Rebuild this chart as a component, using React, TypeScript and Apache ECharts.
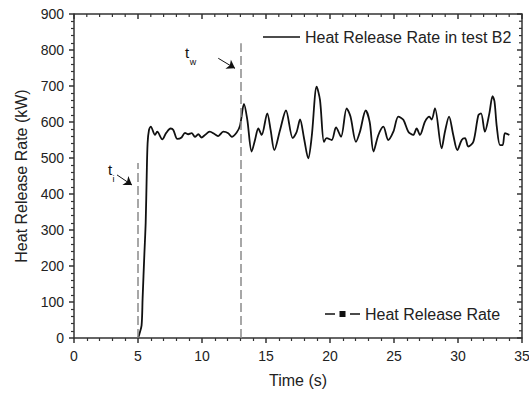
import React, { useEffect, useRef } from "react";
import * as echarts from "echarts";

// Time (s) and heat release rate (kW) for test B2
const timeS: number[] = [
  5.0, 5.1, 5.28, 5.36, 5.5, 5.6, 5.68, 5.75, 5.86, 6.0, 6.33, 6.5, 6.9, 7.19, 7.55, 7.76,
  8.07, 8.4, 8.67, 8.93, 9.19, 9.45, 9.71, 9.97, 10.23, 10.6, 11.0, 11.27, 11.66, 12.05,
  12.32, 12.71, 12.97, 13.28, 13.54, 13.88, 14.14, 14.4, 14.66, 15.1, 15.36, 15.65, 16.1,
  16.56, 17.09, 17.4, 17.66, 17.97, 18.3, 18.57, 18.96, 19.22, 19.53, 19.74, 20.13, 20.47,
  20.86, 21.3, 21.6, 22.03, 22.34, 22.79, 23.1, 23.4, 23.78, 24.17, 24.55, 24.95, 25.34,
  25.73, 26.12, 26.5, 26.77, 27.03, 27.42, 27.76, 27.94, 28.2, 28.72, 28.98, 29.3, 29.63,
  29.95, 30.29, 30.55, 30.8, 31.2, 31.59, 31.8, 32.1, 32.45, 32.7, 32.85, 33.03, 33.28,
  33.49, 33.67, 34.01,
];
const hrrKW: number[] = [
  0, 10, 35, 110, 235, 320, 450, 541, 578, 587, 564, 573, 552, 569, 582, 578,
  553, 557, 570, 566, 569, 559, 566, 557, 564, 573, 566, 561, 573, 569,
  559, 571, 590, 650, 606, 518, 550, 582, 564, 624, 578, 522, 578,
  632, 555, 573, 607, 555, 499, 559, 698, 661, 545, 555, 550, 585,
  559, 638, 615, 545, 573, 632, 600, 518, 564, 587, 550, 573, 615,
  606, 573, 564, 582, 564, 601, 615, 607, 638, 527, 573, 615, 564,
  522, 550, 555, 532, 545, 619, 624, 573, 624, 672, 657, 587, 536,
  536, 569, 564,
];

// Axis ranges
const xMin = 0;
const xMax = 35;
const xStep = 5;
const yMin = 0;
const yMax = 900;
const yStep = 100;

// Event markers: ignition (t_i) and water application (t_w)
const ignitionTime = 5;
const ignitionLineTop = 486;
const waterTime = 13;
const waterLineTop = 819;

const seriesName = "Heat Release Rate in test B2";
const legendName2 = "Heat Release Rate";

const axisColor = "#333";
const textColor = "#222";
const fontFamily = "'Liberation Sans', Arial, sans-serif";

// Legend glyph "—■—" in a 35 x 7 box
const dashSquareIcon =
  "path://M0,2.8 L10,2.8 L10,4.2 L0,4.2 Z M14.5,0.5 L20.5,0.5 L20.5,6.5 L14.5,6.5 Z M25,2.8 L35,2.8 L35,4.2 L25,4.2 Z";

export default function App() {
  const ref = useRef<HTMLDivElement>(null);

  useEffect(() => {
    if (!ref.current) return;
    const chart = echarts.init(ref.current, undefined, { renderer: "svg" });

    const data = timeS.map((t, i) => [t, hrrKW[i]]);

    const line = () => ({ show: true, onZero: false, lineStyle: { color: axisColor, width: 1.5 } });
    const tick = () => ({
      show: true,
      inside: false,
      length: 5,
      lineStyle: { color: axisColor, width: 1.5 },
    });
    const minor = () => ({ show: true, splitNumber: 5, length: 3, lineStyle: { color: axisColor, width: 1.2 } });

    const dashed = { type: [9, 4], color: "#8a8a8a", width: 1.5 };
    const arrowStyle = { type: "solid", color: "#111", width: 1 };
    const letter = (x: number, y: number, text: string, size: number) => ({
      coord: [x, y],
      value: text,
      symbolSize: 1,
      label: {
        show: true,
        position: "inside",
        formatter: text,
        fontSize: size,
        color: "#111",
        fontFamily,
      },
    });

    chart.setOption({
      animation: false,
      textStyle: { fontFamily },
      grid: {
        left: 74,
        top: 14,
        right: 7,
        bottom: 58,
        containLabel: false,
        outerBoundsMode: "none",
      },
      legend: [
        {
          data: [{ name: seriesName, icon: "rect" }],
          left: 258,
          top: 24,
          itemWidth: 37,
          itemHeight: 1.5,
          textStyle: { fontSize: 16, color: textColor, fontFamily },
        },
        {
          data: [{ name: legendName2, icon: dashSquareIcon }],
          left: 320,
          top: 301,
          itemWidth: 35,
          itemHeight: 7,
          textStyle: { fontSize: 16, color: textColor, fontFamily },
        },
      ],
      xAxis: {
        type: "value",
        min: xMin,
        max: xMax,
        interval: xStep,
        position: "bottom",
        splitLine: { show: false },
        axisLine: line(),
        name: "Time (s)",
        nameLocation: "middle",
        nameGap: 34,
        nameTextStyle: { fontSize: 16, color: textColor, fontFamily },
        axisTick: tick(),
        minorTick: minor(),
        axisLabel: { fontSize: 14, color: textColor, margin: 11, fontFamily },
      },
      yAxis: {
        type: "value",
        min: yMin,
        max: yMax,
        interval: yStep,
        position: "left",
        splitLine: { show: false },
        axisLine: line(),
        name: "Heat Release Rate (kW)",
        nameLocation: "middle",
        nameGap: 44,
        nameTextStyle: { fontSize: 16, color: textColor, fontFamily },
        axisTick: tick(),
        minorTick: minor(),
        axisLabel: { fontSize: 14, color: textColor, margin: 10, fontFamily },
      },
      series: [
        {
          name: seriesName,
          type: "line",
          data,
          symbol: "none",
          smooth: 0.3,
          color: "#111",
          lineStyle: { color: "#111", width: 1.8 },
          markLine: {
            silent: true,
            symbol: ["none", "none"],
            label: { show: false },
            data: [
              [
                { coord: [ignitionTime, 0], lineStyle: dashed },
                { coord: [ignitionTime, ignitionLineTop] },
              ],
              [
                { coord: [waterTime, 0], lineStyle: dashed },
                { coord: [waterTime, waterLineTop] },
              ],
              [
                { coord: [3.36, 453], lineStyle: arrowStyle },
                { coord: [4.53, 425], symbol: "arrow", symbolSize: 8 },
              ],
              [
                { coord: [11.27, 777], lineStyle: arrowStyle },
                { coord: [12.58, 749], symbol: "arrow", symbolSize: 8 },
              ],
            ],
          },
          markPoint: {
            silent: true,
            data: [
              letter(2.81, 467, "t", 15),
              letter(3.08, 440, "i", 9),
              letter(8.83, 792, "t", 15),
              letter(9.3, 764, "w", 9),
            ],
          },
        },
        {
          // legend-only entry
          name: legendName2,
          type: "line",
          data: [],
          color: "#111",
        },
      ],
    });

    // Mirrored top and right frame with inward ticks, placed through the axis scales
    const toPx = (x: number, y: number) =>
      chart.convertToPixel({ gridIndex: 0 }, [x, y]) as number[];
    const corner0 = toPx(xMin, yMin);
    const corner1 = toPx(xMax, yMax);
    if (corner0 && corner1) {
      const top = corner1[1];
      const right = corner1[0];
      const left = corner0[0];
      const bottom = corner0[1];
      const frameEls: any[] = [
        {
          type: "polyline",
          z: 100,
          silent: true,
          shape: { points: [[left, top], [right, top], [right, bottom]] },
          style: { stroke: axisColor, lineWidth: 1.5, fill: null },
        },
      ];
      const xMinorStep = xStep / 5;
      for (let k = 0; k <= (xMax - xMin) / xMinorStep; k++) {
        const v = xMin + k * xMinorStep;
        const major = k % 5 === 0;
        const px = toPx(v, yMax)[0];
        frameEls.push({
          type: "line",
          z: 100,
          silent: true,
          shape: { x1: px, y1: top, x2: px, y2: top + (major ? 5 : 3) },
          style: { stroke: axisColor, lineWidth: major ? 1.5 : 1.2 },
        });
      }
      const yMinorStep = yStep / 5;
      for (let k = 0; k <= (yMax - yMin) / yMinorStep; k++) {
        const v = yMin + k * yMinorStep;
        const major = k % 5 === 0;
        const py = toPx(xMax, v)[1];
        frameEls.push({
          type: "line",
          z: 100,
          silent: true,
          shape: { x1: right, y1: py, x2: right - (major ? 5 : 3), y2: py },
          style: { stroke: axisColor, lineWidth: major ? 1.5 : 1.2 },
        });
      }
      chart.setOption({ graphic: frameEls });
    }

    return () => chart.dispose();
  }, []);

  return (
    <div
      ref={ref}
      style={{ position: "absolute", left: 0, top: 0, width: 529, height: 396 }}
    />
  );
}
